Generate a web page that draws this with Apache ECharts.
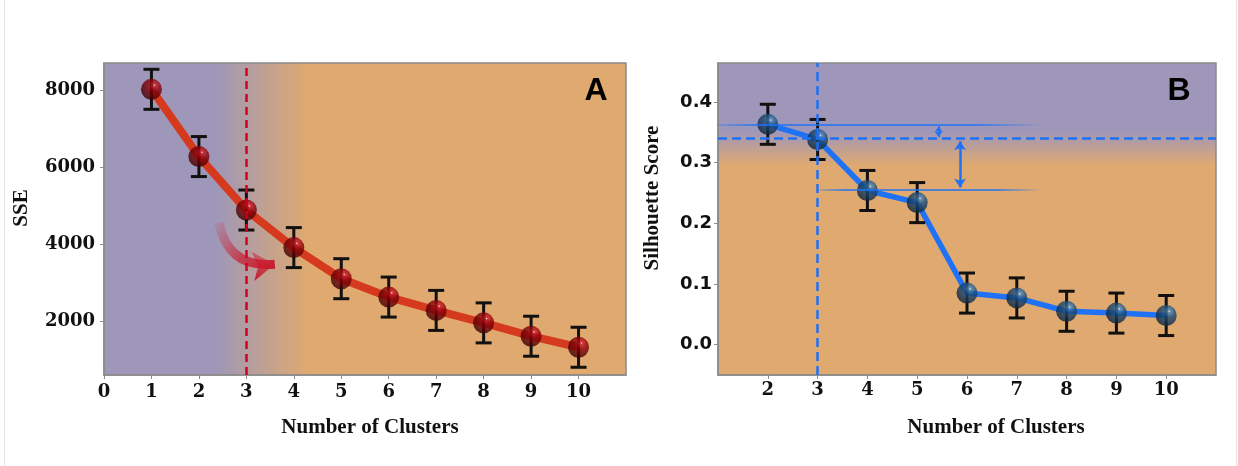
<!DOCTYPE html>
<html>
<head>
<meta charset="utf-8">
<script src="https://cdn.jsdelivr.net/npm/echarts@6/dist/echarts.min.js"></script>
<style>
html, body { margin: 0; padding: 0; background: #fff; }
#main { width: 1238px; height: 466px; }
</style>
</head>
<body>
<div id="main"></div>
<script>
// panel A: elbow method
var clustersA = [1, 2, 3, 4, 5, 6, 7, 8, 9, 10];
var sse = [8026, 6278, 4888, 3912, 3103, 2626, 2279, 1955, 1608, 1321];
var sseErr = [520, 520, 520, 520, 520, 520, 520, 520, 520, 520];
var ticksAx = [0, 1, 2, 3, 4, 5, 6, 7, 8, 9, 10];
var ticksAy = [2000, 4000, 6000, 8000];
var elbowK = 3;
var arrowA = [[2.42, 4560], [3.6, 3480]];

// panel B: silhouette
var clustersB = [2, 3, 4, 5, 6, 7, 8, 9, 10];
var sil = [0.363, 0.338, 0.254, 0.234, 0.085, 0.077, 0.055, 0.052, 0.048];
var silErr = [0.033, 0.033, 0.033, 0.033, 0.033, 0.033, 0.033, 0.033, 0.033];
var ticksBx = [2, 3, 4, 5, 6, 7, 8, 9, 10];
var ticksBy = [0, 0.1, 0.2, 0.3, 0.4];
var bestK = 3;
var silBest = 0.339;
var silTop = 0.363, silNext = 0.255;

var dom = document.getElementById('main');
var myChart = echarts.init(dom);

var serif = 'Liberation Serif';
var tickFont = 'DejaVu Serif';
var purple = '#9e97b9', orange = '#e0a96f';

function pairs(xs, ys) {
	var out = [];
	for (var i = 0; i < xs.length; i++) out.push([xs[i], ys[i]]);
	return out;
}
function errData(xs, ys, es) {
	var out = [];
	for (var i = 0; i < xs.length; i++) out.push([xs[i], ys[i] - es[i], ys[i] + es[i]]);
	return out;
}
function errRender(params, api) {
	var hi = api.coord([api.value(0), api.value(2)]);
	var lo = api.coord([api.value(0), api.value(1)]);
	var w = 8;
	var st = { stroke: '#111', lineWidth: 3, fill: null };
	return {
		type: 'group',
		children: [
			{ type: 'line', shape: { x1: hi[0], y1: hi[1], x2: lo[0], y2: lo[1] }, style: st },
			{ type: 'line', shape: { x1: hi[0] - w, y1: hi[1], x2: hi[0] + w, y2: hi[1] }, style: st },
			{ type: 'line', shape: { x1: lo[0] - w, y1: lo[1], x2: lo[0] + w, y2: lo[1] }, style: st }
		]
	};
}
function sphere(light, mid, dark) {
	return {
		type: 'radial', x: 0.64, y: 0.3, r: 0.8,
		colorStops: [
			{ offset: 0, color: '#ffffff' },
			{ offset: 0.07, color: light },
			{ offset: 0.35, color: mid },
			{ offset: 1, color: dark }
		]
	};
}
function fadeLine(c) {
	return {
		type: 'linear', x: 0, y: 0, x2: 1, y2: 0,
		colorStops: [
			{ offset: 0, color: 'rgba(30,110,245,0.25)' },
			{ offset: 0.12, color: c },
			{ offset: 0.8, color: c },
			{ offset: 1, color: 'rgba(30,110,245,0)' }
		]
	};
}

var axisGray = '#8a8a8a';
var blue = '#1f72f5';

option = {
	animation: false,
	graphic: [
		{ type: 'rect', shape: { x: 4, y: 0, width: 1, height: 466 }, style: { fill: '#e2e2e2' } },
		{ type: 'rect', shape: { x: 1236, y: 0, width: 1, height: 466 }, style: { fill: '#e2e2e2' } },
		{ type: 'text', x: 22, y: 208, rotation: Math.PI / 2,
			style: { text: 'SSE', font: 'bold 21px "' + serif + '"', fill: '#111', textAlign: 'center', textVerticalAlign: 'middle' } },
		{ type: 'text', x: 653, y: 198, rotation: Math.PI / 2,
			style: { text: 'Silhouette Score', font: 'bold 21px "' + serif + '"', fill: '#111', textAlign: 'center', textVerticalAlign: 'middle' } },
		{ type: 'text', x: 370, y: 428,
			style: { text: 'Number of Clusters', font: 'bold 21px "' + serif + '"', fill: '#111', textAlign: 'center', textVerticalAlign: 'middle' } },
		{ type: 'text', x: 996, y: 428,
			style: { text: 'Number of Clusters', font: 'bold 21px "' + serif + '"', fill: '#111', textAlign: 'center', textVerticalAlign: 'middle' } },
		{ type: 'text', x: 596, y: 91,
			style: { text: 'A', font: 'bold 32px "Liberation Sans"', fill: '#000', textAlign: 'center', textVerticalAlign: 'middle' } },
		{ type: 'text', x: 1179, y: 91,
			style: { text: 'B', font: 'bold 32px "Liberation Sans"', fill: '#000', textAlign: 'center', textVerticalAlign: 'middle' } }
	],
	grid: [
		{
			left: 104, top: 63, width: 522, height: 312, show: true,
			borderColor: axisGray, borderWidth: 1.5,
			backgroundColor: new echarts.graphic.LinearGradient(0, 0, 1, 0, [
				{ offset: 0, color: purple },
				{ offset: 0.215, color: purple },
				{ offset: 0.393, color: orange },
				{ offset: 1, color: orange }
			])
		},
		{
			left: 718, top: 63, width: 498, height: 312, show: true,
			borderColor: axisGray, borderWidth: 1.5,
			backgroundColor: new echarts.graphic.LinearGradient(0, 0, 0, 1, [
				{ offset: 0, color: purple },
				{ offset: 0.22, color: purple },
				{ offset: 0.33, color: orange },
				{ offset: 1, color: orange }
			])
		}
	],
	xAxis: [
		{
			type: 'value', gridIndex: 0, min: 0, max: 11,
			splitLine: { show: false },
			axisLine: { onZero: false, lineStyle: { color: axisGray, width: 1.5 } },
			axisTick: { length: 4, lineStyle: { color: axisGray }, customValues: ticksAx },
			axisLabel: { customValues: ticksAx, margin: 8, color: '#111', fontFamily: tickFont, fontWeight: 'bold', fontSize: 18 }
		},
		{
			type: 'value', gridIndex: 1, min: 1, max: 11,
			splitLine: { show: false },
			axisLine: { onZero: false, lineStyle: { color: axisGray, width: 1.5 } },
			axisTick: { length: 4, lineStyle: { color: axisGray }, customValues: ticksBx },
			axisLabel: { customValues: ticksBx, margin: 6, color: '#111', fontFamily: tickFont, fontWeight: 'bold', fontSize: 18 }
		}
	],
	yAxis: [
		{
			type: 'value', gridIndex: 0, min: 600, max: 8710,
			splitLine: { show: false },
			axisLine: { show: true, onZero: false, lineStyle: { color: axisGray, width: 1.5 } },
			axisTick: { show: true, length: 4, lineStyle: { color: axisGray }, customValues: ticksAy },
			axisLabel: {
				customValues: ticksAy, margin: 9, color: '#111', fontFamily: tickFont, fontWeight: 'bold', fontSize: 18,
				formatter: function (v) { return String(v); }
			}
		},
		{
			type: 'value', gridIndex: 1, min: -0.05, max: 0.464,
			splitLine: { show: false },
			axisLine: { show: true, onZero: false, lineStyle: { color: axisGray, width: 1.5 } },
			axisTick: { show: true, length: 4, lineStyle: { color: axisGray }, customValues: ticksBy },
			axisLabel: {
				customValues: ticksBy, margin: 6, color: '#111', fontFamily: 'DejaVu Sans', fontWeight: 'bold', fontSize: 18,
				formatter: function (v) { return v.toFixed(1); }
			}
		}
	],
	series: [
		// curved hint arrow in A
		{
			type: 'lines', coordinateSystem: 'cartesian2d', xAxisIndex: 0, yAxisIndex: 0, z: 1,
			silent: true,
			symbol: ['none', 'arrow'], symbolSize: 22,
			lineStyle: {
				width: 9, curveness: -0.45, opacity: 1,
				color: {
					type: 'linear', x: 0, y: 0, x2: 1, y2: 1,
					colorStops: [
						{ offset: 0, color: 'rgba(205,40,60,0.05)' },
						{ offset: 0.55, color: 'rgba(200,25,45,0.7)' },
						{ offset: 1, color: 'rgba(200,16,40,0.95)' }
					]
				}
			},
			data: [{ coords: arrowA }]
		},
		{
			type: 'line', xAxisIndex: 0, yAxisIndex: 0, z: 2,
			data: pairs(clustersA, sse),
			showSymbol: false,
			lineStyle: { color: '#d63a1e', width: 8 },
			markLine: {
				silent: true, symbol: 'none', label: { show: false },
				lineStyle: { color: '#d4001f', width: 2.5, type: [8, 5] },
				data: [{ xAxis: elbowK }]
			}
		},
		{
			type: 'custom', xAxisIndex: 0, yAxisIndex: 0, z: 3,
			renderItem: errRender,
			data: errData(clustersA, sse, sseErr)
		},
		{
			type: 'scatter', xAxisIndex: 0, yAxisIndex: 0, z: 4,
			symbolSize: 21,
			itemStyle: { color: sphere('#d0202a', '#8c0008', '#2a0000') },
			data: pairs(clustersA, sse)
		},
		{
			type: 'line', xAxisIndex: 1, yAxisIndex: 1, z: 2,
			data: pairs(clustersB, sil),
			showSymbol: false,
			lineStyle: { color: blue, width: 5.5 },
			markLine: {
				silent: true, symbol: 'none', label: { show: false },
				lineStyle: { color: blue, width: 2.5, type: [9, 5] },
				data: [
					{ xAxis: bestK },
					{ yAxis: silBest },
					[
						{ coord: [1, silTop], lineStyle: { type: 'solid', width: 1.5, color: fadeLine(blue) } },
						{ coord: [7.45, silTop] }
					],
					[
						{ coord: [3.05, silNext], lineStyle: { type: 'solid', width: 1.5, color: fadeLine(blue) } },
						{ coord: [7.45, silNext] }
					],
					[
						{ coord: [5.43, silTop - 0.003], symbol: 'arrow', symbolSize: 6, lineStyle: { type: 'solid', width: 2 } },
						{ coord: [5.43, silBest + 0.003], symbol: 'arrow', symbolSize: 6 }
					],
					[
						{ coord: [5.86, silBest - 0.004], symbol: 'arrow', symbolSize: 9, lineStyle: { type: 'solid', width: 2.5 } },
						{ coord: [5.86, silNext + 0.004], symbol: 'arrow', symbolSize: 9 }
					]
				]
			}
		},
		{
			type: 'custom', xAxisIndex: 1, yAxisIndex: 1, z: 3,
			renderItem: errRender,
			data: errData(clustersB, sil, silErr)
		},
		{
			type: 'scatter', xAxisIndex: 1, yAxisIndex: 1, z: 4,
			symbolSize: 21,
			itemStyle: { color: sphere('#4f8cc0', '#1d4c78', '#081a2c') },
			data: pairs(clustersB, sil)
		}
	]
};
myChart.setOption(option, true);
</script>
</body>
</html>
